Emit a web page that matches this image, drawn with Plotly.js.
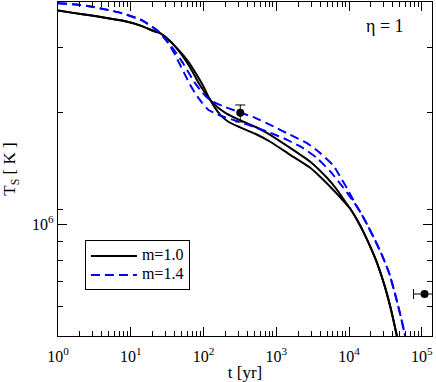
<!DOCTYPE html>
<html>
<head>
<meta charset="utf-8">
<script src="https://cdn.plot.ly/plotly-3.0.1.min.js"></script>
<style>
  body { margin: 0; background: #fff; }
  #chart { width: 436px; height: 382px; }
</style>
</head>
<body>
<div id="chart"></div>
<script>
// m = 1.0, first model (drops a little earlier, ends slightly higher)
var tM10a = [1, 1.61, 2.59, 4.43, 7.59, 13.4, 21.6, 25.3, 32.6, 40.7,
  49.2, 59.5, 71.9, 87.0, 105, 127, 159, 205, 299, 513, 825, 1550, 2930, 4970,
  6670, 8320, 10390, 12970, 15680, 19560, 24430, 30500, 38060, 46030, 49030];
var TM10a = [3.774e6, 3.721e6, 3.671e6, 3.612e6, 3.548e6, 3.443e6, 3.313e6, 3.281e6, 3.157e6, 3.022e6,
  2.885e6, 2.729e6, 2.564e6, 2.395e6, 2.265e6, 2.155e6, 2.063e6, 1.994e6, 1.921e6, 1.834e6, 1.745e6, 1.609e6, 1.476e6, 1.336e6,
  1.248e6, 1.173e6, 1.102e6, 1.026e6, 9.56e5, 8.71e5, 7.84e5, 6.88e5, 5.85e5, 4.95e5, 4.74e5];

// m = 1.0, second model (drops later, plateau slightly lower)
var tM10b = [1, 1.61, 2.59, 4.43, 7.59, 13.4, 21.6, 25.3, 32.6, 40.7,
  50.8, 63.4, 79.1, 98.7, 119, 144, 175, 225, 319, 513, 825, 1550, 2930,
  4420, 6820, 8320, 10390, 12970, 15680, 19560, 24430, 30500, 38060, 46030, 49030];
var TM10b = [3.774e6, 3.721e6, 3.671e6, 3.612e6, 3.548e6, 3.443e6, 3.313e6, 3.281e6, 3.157e6, 3.022e6,
  2.885e6, 2.729e6, 2.548e6, 2.365e6, 2.195e6, 2.063e6, 1.963e6, 1.886e6, 1.828e6, 1.756e6, 1.671e6, 1.541e6, 1.422e6,
  1.320e6, 1.210e6, 1.158e6, 1.102e6, 1.026e6, 9.56e5, 8.71e5, 7.84e5, 6.88e5, 5.85e5, 4.95e5, 4.74e5];

// m = 1.4, first model (lower branch)
var tM14a = [1, 1.61, 2.59, 4.43, 7.59, 14.3, 21.6, 25.3, 29.6,
  34.7, 40.7, 47.6, 55.8, 65.4, 79.1, 95.7, 116, 149, 198, 299, 513, 825, 1410,
  2340, 3620, 5510, 7570, 9445, 11790, 14720, 18370, 22930, 28620, 35730, 43200, 50620, 59310, 63170];
var TM14a = [3.953e6, 3.923e6, 3.886e6, 3.803e6, 3.714e6, 3.551e6, 3.370e6, 3.281e6, 3.166e6,
  3.032e6, 2.867e6, 2.695e6, 2.532e6, 2.380e6, 2.237e6, 2.128e6, 2.038e6, 1.988e6, 1.945e6, 1.897e6, 1.828e6, 1.767e6, 1.691e6,
  1.606e6, 1.510e6, 1.390e6, 1.287e6, 1.217e6, 1.144e6, 1.069e6, 9.86e5, 9.04e5, 8.23e5, 7.37e5, 6.46e5, 5.71e5, 4.98e5, 4.71e5];

// m = 1.4, second model (upper branch)
var tM14b = [1, 1.61, 2.59, 4.43, 7.59, 14.3, 21.6, 25.3, 29.6,
  34.7, 42.0, 50.8, 61.4, 74.3, 89.8, 109, 136, 180, 299, 513, 825, 1550,
  2640, 4020, 6120, 7570, 9445, 11790, 14720, 18370, 22930, 28620, 35730, 43200, 50620, 59310, 63170];
var TM14b = [3.953e6, 3.923e6, 3.886e6, 3.803e6, 3.714e6, 3.551e6, 3.370e6, 3.281e6, 3.166e6,
  3.051e6, 2.903e6, 2.745e6, 2.580e6, 2.425e6, 2.307e6, 2.209e6, 2.141e6, 2.089e6, 2.013e6, 1.939e6, 1.856e6, 1.745e6,
  1.657e6, 1.557e6, 1.440e6, 1.345e6, 1.248e6, 1.151e6, 1.069e6, 9.86e5, 9.04e5, 8.23e5, 7.37e5, 6.46e5, 5.71e5, 4.98e5, 4.71e5];

// observed points
var obsAgeA = [320], obsTempA = [2.0e6], obsTempErrUp = [1.0e5], obsTempErrDown = [1.1e5];
var obsAgeB = [1.09e5], obsTempB = [6.49e5], obsAgeErrUp = [4.5e4], obsAgeErrDown = [3.2e4];

// tick labels
var xMajor = [1, 10, 100, 1000, 1e4, 1e5];
var xMajorText = ['10<sup>0</sup>', '10<sup>1</sup>', '10<sup>2</sup>', '10<sup>3</sup>', '10<sup>4</sup>', '10<sup>5</sup>'];
var yMajor = [1e6];
var yMajorText = ['10<sup>6</sup>'];
var yMinor = [5e5, 6e5, 7e5, 8e5, 9e5, 1.1e6, 2e6, 3e6];

var xMinor = [];
for (var k = 0; k < 5; k++) {
  for (var d = 2; d <= 9; d++) xMinor.push(d * Math.pow(10, k));
}

var serif = 'Liberation Serif, Times New Roman, serif';

function curve(t, T, color, dash, name, show) {
  return {
    x: t, y: T, type: 'scatter', mode: 'lines',
    name: '<span style="font-size:16px">' + name + '</span>',
    legendgroup: name, showlegend: show,
    line: { color: color, width: 2, dash: dash, shape: 'spline', smoothing: 0.5 },
    hoverinfo: 'skip'
  };
}

var data = [
  curve(tM10a, TM10a, '#000000', 'solid', 'm=1.0', true),
  curve(tM10b, TM10b, '#000000', 'solid', 'm=1.0', false),
  curve(tM14a, TM14a, '#0000ff', '9px,5px', 'm=1.4', true),
  curve(tM14b, TM14b, '#0000ff', '9px,5px', 'm=1.4', false),
  {
    x: obsAgeA, y: obsTempA, type: 'scatter', mode: 'markers', showlegend: false,
    marker: { color: '#000', size: 8 },
    error_y: { type: 'data', array: obsTempErrUp, arrayminus: obsTempErrDown, color: '#000', thickness: 1, width: 5 }
  },
  {
    x: obsAgeB, y: obsTempB, type: 'scatter', mode: 'markers', showlegend: false,
    marker: { color: '#000', size: 8 },
    error_x: { type: 'data', array: obsAgeErrUp, arrayminus: obsAgeErrDown, color: '#000', thickness: 1, width: 5 }
  }
];

var axisCommon = {
  type: 'log',
  showgrid: false, zeroline: false,
  showline: true, linecolor: '#000', linewidth: 1.3, mirror: 'allticks',
  ticks: 'inside', ticklen: 9, tickwidth: 1, tickcolor: '#000',
  tickmode: 'array',
  tickfont: { family: serif, size: 16, color: '#000' }
};

var layout = {
  width: 436, height: 382,
  margin: { l: 58, r: 4, t: 2, b: 46 },
  paper_bgcolor: '#fff', plot_bgcolor: '#fff',
  font: { family: serif, color: '#000' },
  showlegend: true,
  xaxis: Object.assign({}, axisCommon, {
    range: [0, 5.14],
    tickvals: xMajor, ticktext: xMajorText,
    ticklabelstandoff: 5,
    minor: { tickmode: 'array', tickvals: xMinor, ticks: 'inside', ticklen: 5, tickcolor: '#000', tickwidth: 1 },
    title: { text: 't [yr]', font: { family: serif, size: 17 }, standoff: 4 }
  }),
  yaxis: Object.assign({}, axisCommon, {
    range: [Math.log10(5e5), 6.6],
    tickvals: yMajor, ticktext: yMajorText,
    automargin: true,
    minor: { tickmode: 'array', tickvals: yMinor, ticks: 'inside', ticklen: 5, tickcolor: '#000', tickwidth: 1 },
    title: { text: 'T<sub>S</sub> [ K ]', font: { family: serif, size: 17 }, standoff: 12 }
  }),
  legend: {
    x: 0.072, y: 0.286, xanchor: 'left', yanchor: 'top',
    bgcolor: '#fff', bordercolor: '#000', borderwidth: 1,
    font: { family: serif, size: 11, color: '#000' },
    itemwidth: 46, tracegroupgap: 0
  },
  annotations: [{
    xref: 'paper', yref: 'paper', x: 0.874, y: 0.928, xanchor: 'center', yanchor: 'middle',
    showarrow: false,
    text: '\u03b7 = 1', font: { family: serif, size: 18, color: '#000' }
  }]
};

Plotly.newPlot('chart', data, layout, { displayModeBar: false, staticPlot: true });
</script>
</body>
</html>
